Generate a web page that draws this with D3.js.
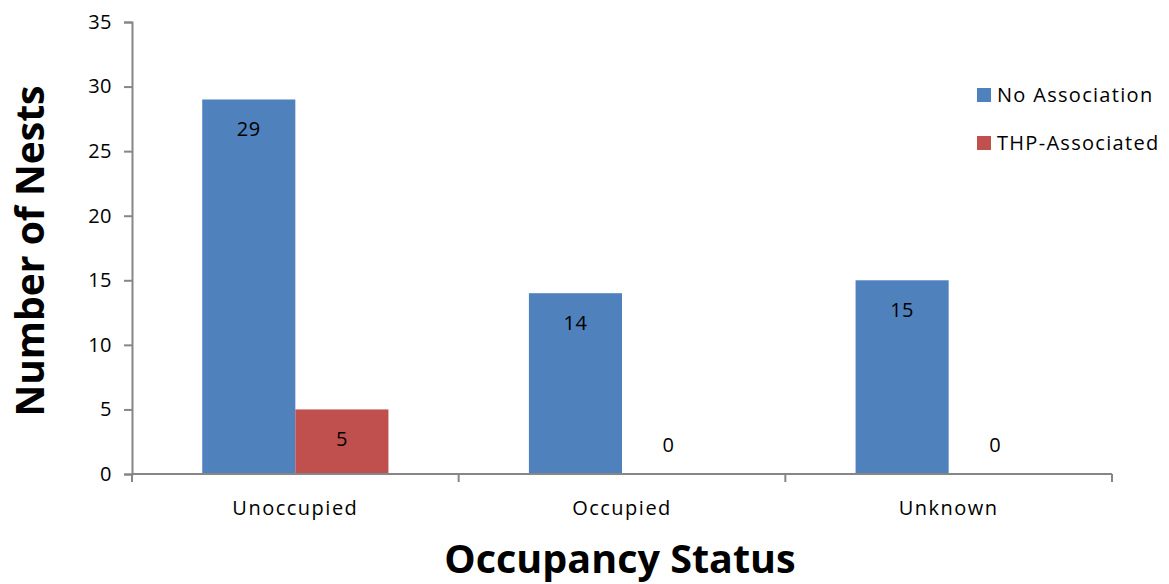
<!DOCTYPE html>
<html>
<head>
<meta charset="utf-8">
<script src="https://cdn.jsdelivr.net/npm/d3@7"></script>
<style>
  html, body { margin: 0; padding: 0; background: #fff; }
  text { font-family: "Open Sans", "Liberation Sans", sans-serif; fill: #000; }
</style>
</head>
<body>
<svg id="chart" width="1169" height="584"></svg>
<script>
// Chart data
const categories = ["Unoccupied", "Occupied", "Unknown"];
const seriesNames = ["No Association", "THP-Associated"];
const noAssociation = [29, 14, 15];
const thpAssociated = [5, 0, 0];
const yTicks = [0, 5, 10, 15, 20, 25, 30, 35];

const colors = ["#4F81BD", "#C0504D"];
const axisColor = "#868686";

const svg = d3.select("#chart");
const width = 1169;
const height = 584;
const margin = { top: 22, right: 57, bottom: 110, left: 132 };
const plotW = width - margin.left - margin.right;
const plotH = height - margin.top - margin.bottom;

// Scales
const x0 = d3.scaleBand()
  .domain(categories)
  .range([0, plotW])
  .paddingInner(0)
  .paddingOuter(0);

// bars take 186 of ~327 px per category (gap width ~150%)
const groupFrac = 0.57;
const x1 = d3.scaleBand()
  .domain(seriesNames)
  .range([0, x0.bandwidth() * groupFrac]);

const y = d3.scaleLinear().domain([0, 35]).range([plotH, 0]);

const g = svg.append("g")
  .attr("transform", `translate(${margin.left},${margin.top})`);

// Build rows for the bars
const rows = categories.map((c, i) => ({
  category: c,
  values: [
    { series: seriesNames[0], value: noAssociation[i], color: colors[0] },
    { series: seriesNames[1], value: thpAssociated[i], color: colors[1] },
  ],
}));

const groupOffset = (x0.bandwidth() * (1 - groupFrac)) / 2;

const groups = g.selectAll(".cat")
  .data(rows)
  .enter()
  .append("g")
  .attr("class", "cat")
  .attr("transform", (d) => `translate(${x0(d.category) + groupOffset},0)`);

groups.selectAll("rect")
  .data((d) => d.values)
  .enter()
  .append("rect")
  .attr("x", (d) => x1(d.series))
  .attr("y", (d) => y(d.value))
  .attr("width", x1.bandwidth())
  .attr("height", (d) => plotH - y(d.value))
  .attr("fill", (d) => d.color);

// Data labels (inside end; zero values sit just above the axis)
groups.selectAll(".label")
  .data((d) => d.values)
  .enter()
  .append("text")
  .attr("class", "label")
  .attr("x", (d) => x1(d.series) + x1.bandwidth() / 2)
  .attr("y", (d) => Math.min(y(d.value) + 30, plotH - 29))
  .attr("dy", "0.35em")
  .attr("text-anchor", "middle")
  .attr("font-size", 20)
  .attr("letter-spacing", 0.5)
  .text((d) => d.value);

// Y axis
const yAxis = g.append("g")
  .call(d3.axisLeft(y).tickValues(yTicks).tickSize(8).tickPadding(12));
yAxis.select(".domain").attr("stroke", axisColor).attr("stroke-width", 2);
yAxis.selectAll(".tick line").attr("stroke", axisColor).attr("stroke-width", 2);
yAxis.selectAll(".tick text")
  .attr("font-size", 20)
  .attr("letter-spacing", 0.5)
  .attr("font-family", "Open Sans, sans-serif")
  .attr("fill", "#000");

// X axis: ticks on category boundaries
const xAxisG = g.append("g").attr("transform", `translate(0,${plotH})`);
xAxisG.append("line")
  .attr("x1", 0).attr("x2", plotW)
  .attr("y1", 0).attr("y2", 0)
  .attr("stroke", axisColor).attr("stroke-width", 2);

const boundaries = categories.map((c) => x0(c)).concat([plotW]);
xAxisG.selectAll(".xtick")
  .data(boundaries)
  .enter()
  .append("line")
  .attr("x1", (d) => d).attr("x2", (d) => d)
  .attr("y1", 0).attr("y2", 8)
  .attr("stroke", axisColor).attr("stroke-width", 2);

xAxisG.selectAll(".xlabel")
  .data(categories)
  .enter()
  .append("text")
  .attr("x", (d) => x0(d) + x0.bandwidth() / 2)
  .attr("y", 34)
  .attr("dy", "0.35em")
  .attr("text-anchor", "middle")
  .attr("font-size", 20)
  .attr("letter-spacing", 1.5)
  .text((d) => d);

// Axis titles
svg.append("text")
  .attr("x", margin.left + plotW / 2 - 2)
  .attr("y", 559)
  .attr("dy", "0.35em")
  .attr("text-anchor", "middle")
  .attr("font-size", 39.5)
  .attr("font-weight", "bold")
  .text("Occupancy Status");

svg.append("text")
  .attr("transform", "translate(30,251) rotate(-90)")
  .attr("dy", "0.35em")
  .attr("text-anchor", "middle")
  .attr("font-size", 39)
  .attr("font-weight", "bold")
  .text("Number of Nests");

// Legend
const legend = svg.append("g").attr("transform", "translate(977,88)");
const entries = legend.selectAll(".legend-entry")
  .data(seriesNames)
  .enter()
  .append("g")
  .attr("class", "legend-entry")
  .attr("transform", (d, i) => `translate(0,${i * 48})`);

entries.append("rect")
  .attr("width", 14)
  .attr("height", 14)
  .attr("fill", (d, i) => colors[i]);

entries.append("text")
  .attr("x", 20)
  .attr("y", 7)
  .attr("dy", "0.35em")
  .attr("font-size", 20)
  .attr("letter-spacing", 1.3)
  .text((d) => d);
</script>
</body>
</html>
